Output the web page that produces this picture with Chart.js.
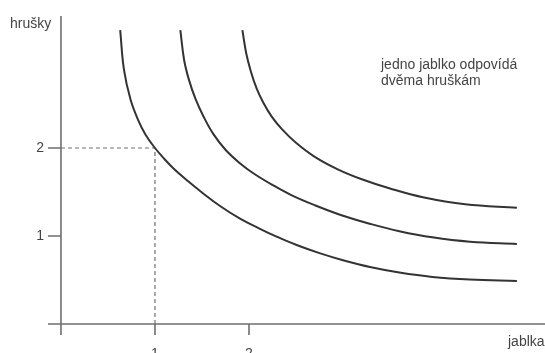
<!DOCTYPE html>
<html>
<head>
<meta charset="utf-8">
<script src="https://cdn.jsdelivr.net/npm/chart.js@4/dist/chart.umd.min.js"></script>
<style>
  html, body { margin: 0; padding: 0; background: #fff; }
  #wrap { width: 545px; height: 353px; position: relative; }
</style>
</head>
<body>
<div id="wrap"><canvas id="c" width="545" height="353"></canvas></div>
<script>
// Indifference curves (jablka on x, hrušky on y)
const curve1X = [0.63, 0.67, 0.74, 0.82, 0.9, 1.0, 1.1, 1.2, 1.35, 1.5, 1.7, 1.9, 2.1, 2.3, 2.5, 2.75, 3.0, 3.3, 3.6, 3.95, 4.35, 4.85];
const curve1Y = [3.34, 2.89, 2.55, 2.32, 2.15, 2.0, 1.875, 1.765, 1.625, 1.495, 1.335, 1.2, 1.09, 0.99, 0.9, 0.805, 0.725, 0.645, 0.585, 0.535, 0.505, 0.49];
const curve2X = [1.27, 1.31, 1.36, 1.43, 1.52, 1.62, 1.75, 1.9, 2.05, 2.25, 2.45, 2.7, 3.0, 3.3, 3.6, 3.95, 4.35, 4.85];
const curve2Y = [3.34, 3.0, 2.78, 2.56, 2.35, 2.16, 1.98, 1.83, 1.71, 1.58, 1.465, 1.35, 1.23, 1.135, 1.055, 0.985, 0.935, 0.91];
const curve3X = [1.93, 1.97, 2.02, 2.08, 2.15, 2.24, 2.35, 2.5, 2.7, 2.95, 3.2, 3.5, 3.85, 4.3, 4.85];
const curve3Y = [3.34, 3.08, 2.87, 2.68, 2.52, 2.36, 2.215, 2.06, 1.9, 1.755, 1.645, 1.54, 1.44, 1.36, 1.32];
// Dashed guide to the point (1, 2)
const guideX = [0, 1, 1];
const guideY = [2, 2, 0];
// Ticks and texts
const xTicks = [1, 2];
const xTickLabels = ['1', '2'];
const yTicks = [1, 2];
const yTickLabels = ['1', '2'];
const xTitle = 'jablka';
const yTitle = 'hrušky';
const noteLines = ['jedno jablko odpovídá', 'dvěma hruškám'];

const toPts = (xs, ys) => xs.map((v, i) => ({ x: v, y: ys[i] }));
const FONT = '14px "Liberation Sans", Arial, Helvetica, sans-serif';
const TEXT = '#444';
const AXIS = '#6f6f6f';

const axesPlugin = {
  id: 'axesPlugin',
  afterDatasetsDraw(chart) {
    const { ctx, chartArea: a, scales: { x, y } } = chart;
    const x0 = x.getPixelForValue(0);
    const y0 = y.getPixelForValue(0);
    ctx.save();
    ctx.strokeStyle = AXIS;
    ctx.lineWidth = 1.6;
    ctx.beginPath();
    ctx.moveTo(a.left, y0); ctx.lineTo(a.right, y0);
    ctx.moveTo(x0, a.top); ctx.lineTo(x0, a.bottom);
    xTicks.forEach(v => {
      const px = x.getPixelForValue(v);
      ctx.moveTo(px, y0); ctx.lineTo(px, y0 + 11);
    });
    yTicks.forEach(v => {
      const py = y.getPixelForValue(v);
      ctx.moveTo(x0 - 13, py); ctx.lineTo(x0, py);
    });
    ctx.stroke();

    ctx.fillStyle = TEXT;
    ctx.font = FONT;
    ctx.textBaseline = 'middle';
    ctx.textAlign = 'center';
    xTicks.forEach((v, i) => ctx.fillText(xTickLabels[i], x.getPixelForValue(v), y0 + 30));
    ctx.textAlign = 'right';
    yTicks.forEach((v, i) => ctx.fillText(yTickLabels[i], x0 - 17, y.getPixelForValue(v)));
    ctx.textAlign = 'left';
    ctx.fillText(yTitle, 10, 24);
    ctx.fillText(xTitle, 508, 342);
    noteLines.forEach((t, i) => ctx.fillText(t, 381, 65 + i * 16));
    ctx.restore();
  }
};

const curveStyle = {
  showLine: true, borderColor: '#333', borderWidth: 2, pointRadius: 0,
  tension: 0.4, fill: false
};

new Chart(document.getElementById('c'), {
  type: 'scatter',
  data: {
    datasets: [
      { ...curveStyle, data: toPts(curve1X, curve1Y) },
      { ...curveStyle, data: toPts(curve2X, curve2Y) },
      { ...curveStyle, data: toPts(curve3X, curve3Y) },
      { showLine: true, data: toPts(guideX, guideY), borderColor: '#707070', borderWidth: 1.2,
        borderDash: [4, 3], pointRadius: 0, tension: 0 }
    ]
  },
  options: {
    responsive: false,
    animation: false,
    layout: { padding: { left: 48, right: 0, top: 16, bottom: 18 } },
    plugins: { legend: { display: false }, tooltip: { enabled: false } },
    scales: {
      x: { type: 'linear', display: false, min: -0.138, max: 5.149 },
      y: { type: 'linear', display: false, min: -0.125, max: 3.5 }
    }
  },
  plugins: [axesPlugin]
});
</script>
</body>
</html>
